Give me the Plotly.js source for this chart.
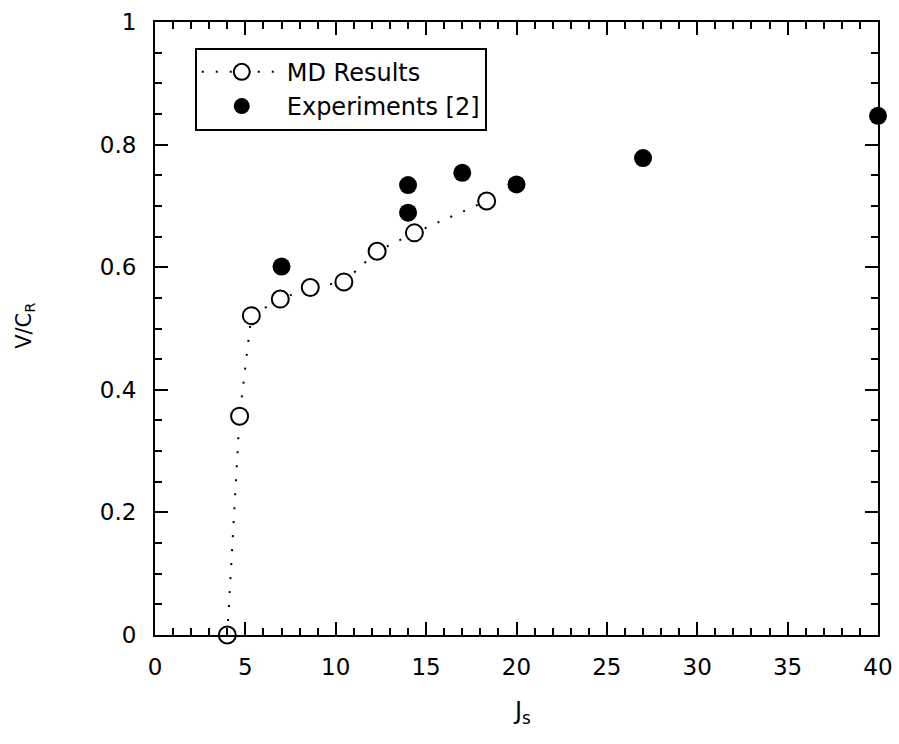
<!DOCTYPE html>
<html>
<head>
<meta charset="utf-8">
<script src="https://cdn.plot.ly/plotly-3.0.1.min.js"></script>
<style>html,body{margin:0;padding:0;background:#fff;}#chart{width:899px;height:744px;}</style>
</head>
<body>
<div id="chart"></div>
<script>
const mdJs = [4.0, 4.68, 5.33, 6.93, 8.59, 10.45, 12.29, 14.35, 18.35];
const mdV  = [0.0, 0.357, 0.521, 0.548, 0.567, 0.576, 0.626, 0.656, 0.708];
const expJs = [7.0, 14.0, 14.0, 17.0, 20.0, 27.0, 40.0];
const expV  = [0.601, 0.734, 0.689, 0.754, 0.735, 0.778, 0.847];
const xTicks = [0, 5, 10, 15, 20, 25, 30, 35, 40];
const yTicks = [0, 0.2, 0.4, 0.6, 0.8, 1];

const FONT = "DejaVu Sans, Verdana, sans-serif";

const traces = [
  {
    x: mdJs, y: mdV, name: "MD Results", type: "scatter", mode: "lines+markers",
    line: {color: "black", width: 2, dash: "2px,12px"},
    marker: {symbol: "circle", size: 17, color: "white", line: {color: "black", width: 2}},
    cliponaxis: false
  },
  {
    x: expJs, y: expV, name: "Experiments [2]", type: "scatter", mode: "markers",
    marker: {symbol: "circle", size: 18, color: "black"},
    cliponaxis: false
  }
];

const axisCommon = {
  showgrid: false, zeroline: false, showline: true, linecolor: "black", linewidth: 2,
  ticks: "inside", tickcolor: "black", tickwidth: 2, mirror: "ticks",
  tickfont: {family: FONT, size: 23, color: "black"}
};

const layout = {
  width: 899, height: 744,
  margin: {l: 155, r: 21, t: 22, b: 109},
  paper_bgcolor: "white", plot_bgcolor: "white",
  font: {family: FONT, size: 23, color: "black"},
  showlegend: true,
  legend: {
    x: 0.055, y: 0.958, xanchor: "left", yanchor: "top",
    bordercolor: "black", borderwidth: 2, bgcolor: "white",
    font: {family: FONT, size: 24, color: "black"},
    itemwidth: 80, tracegroupgap: 0
  },
  xaxis: Object.assign({}, axisCommon, {
    range: [0, 40], tickvals: xTicks, ticktext: xTicks.map(String), ticklen: 13,
    ticklabelstandoff: 10,
    minor: {dtick: 1, ticks: "inside", ticklen: 7, tickcolor: "black", tickwidth: 2}
  }),
  yaxis: Object.assign({}, axisCommon, {
    range: [0, 1], tickvals: yTicks, ticktext: yTicks.map(String), ticklen: 13,
    ticklabelstandoff: 12,
    minor: {dtick: 0.05, ticks: "inside", ticklen: 7, tickcolor: "black", tickwidth: 2}
  }),
  annotations: [
    {text: "J<sub>s</sub>", xref: "x", yref: "paper", x: 20.3, y: -0.155,
     showarrow: false, font: {family: FONT, size: 24, color: "black"}},
    {text: "V/C<sub>R</sub>", xref: "paper", yref: "paper", x: -0.2, y: 0.505,
     textangle: -90, showarrow: false, font: {family: FONT, size: 21, color: "black"}}
  ]
};

Plotly.newPlot("chart", traces, layout, {displayModeBar: false, staticPlot: true});
</script>
</body>
</html>
